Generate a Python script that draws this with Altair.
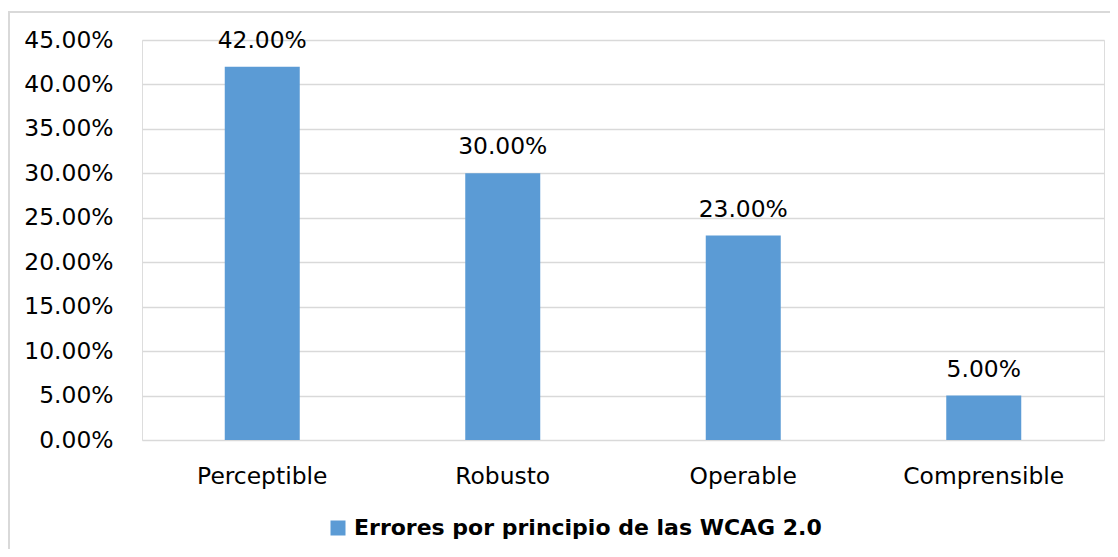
import altair as alt
import pandas as pd

categorias = ["Perceptible", "Robusto", "Operable", "Comprensible"]
valores = [0.42, 0.30, 0.23, 0.05]
serie = "Errores por principio de las WCAG 2.0"
ticks_y = [0, 0.05, 0.10, 0.15, 0.20, 0.25, 0.30, 0.35, 0.40, 0.45]

df = pd.DataFrame({"cat": categorias, "val": valores, "serie": [serie] * len(categorias)})

W, H = 962, 400
FONT = "DejaVu Sans"
FS = 23.4

base = alt.Chart(df)

x = alt.X("cat:N", sort=categorias, title=None,
          axis=alt.Axis(labelAngle=0, domain=False, ticks=False, grid=False,
                        labelFont=FONT, labelFontSize=FS, labelColor="#000000",
                        labelPadding=25))
y = alt.Y("val:Q", title=None, scale=alt.Scale(domain=[0, 0.45], nice=False),
          axis=alt.Axis(values=ticks_y, format=".2%", domain=False, ticks=False,
                        gridColor="#d9d9d9", gridWidth=1.4,
                        labelFont=FONT, labelFontSize=FS, labelColor="#000000",
                        labelPadding=29))

bars = base.mark_bar(size=75).encode(
    x=x, y=y,
    color=alt.Color("serie:N", scale=alt.Scale(range=["#5b9bd5"]),
                    legend=alt.Legend(title=None, orient="none", legendX=185, legendY=477,
                                      symbolType="square", symbolSize=225,
                                      symbolStrokeWidth=0, labelFont=FONT,
                                      labelFontWeight="bold", labelFontSize=22,
                                      labelColor="#000000", labelOffset=5, labelLimit=800))
)

labels = base.mark_text(baseline="alphabetic", dy=-19, font=FONT, fontSize=FS,
                        color="#000000").encode(
    x=alt.X("cat:N", sort=categorias),
    y=alt.Y("val:Q"),
    text=alt.Text("val:Q", format=".2%"),
)

border = alt.Chart(pd.DataFrame({"b": [0]})).mark_rect(
    fill=None, stroke="#d9d9d9", strokeWidth=2
).encode(
    x=alt.value(-133), x2=alt.value(W + 60),
    y=alt.value(-28), y2=alt.value(H + 200),
)

chart = alt.layer(border, bars, labels).properties(
    width=W, height=H,
    autosize=alt.AutoSizeParams(type="none"),
    padding={"left": 134, "top": 32, "right": 6, "bottom": 109},
).configure_view(stroke=None).configure(background="#ffffff")

chart.save("out.html", embed_options={"renderer": "svg", "actions": False})
